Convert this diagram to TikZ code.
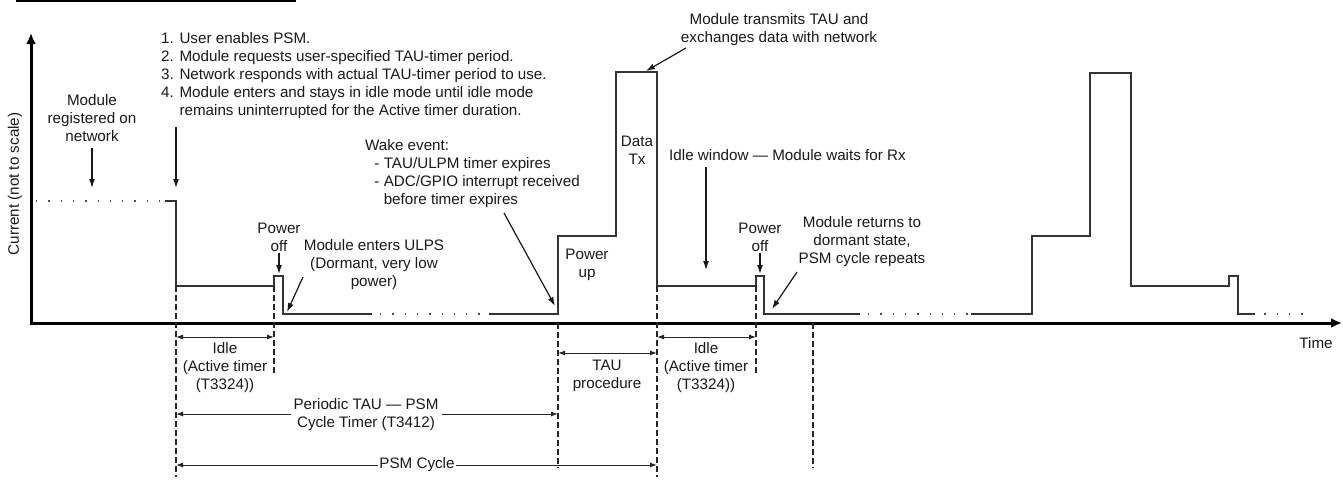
\documentclass[tikz,border=0pt]{standalone}
\usepackage{fontspec}
\setmainfont{Liberation Sans}
\usetikzlibrary{arrows.meta}
\begin{document}
\begin{tikzpicture}[x=1pt,y=-1pt,
  lbl/.style={font=\fontsize{15.2}{18}\selectfont, inner sep=0pt, align=center, text=black!90},
  sigline/.style={line width=1.3pt, black!80, line join=miter},
  dotline/.style={line width=1.5pt, dash pattern=on 1.3pt off 11pt, black!70},
  guideline/.style={line width=1.5pt, dash pattern=on 6pt off 3pt, black!85},
  notearrow/.style={line width=1.2pt, black!90, -{Latex[length=9pt,width=6pt]}},
  dimarrow/.style={line width=1pt, black!85, {Latex[length=7pt,width=5pt]}-{Latex[length=7pt,width=5pt]}},
  axisline/.style={line width=3pt, black, line join=miter, {Latex[length=11pt,width=10pt]}-{Latex[length=11pt,width=10pt]}}
]
\useasboundingbox (0,0) rectangle (1343,479);

% top rule
\draw[line width=1.2pt] (16,1) -- (296,1);

% axes
\coordinate (ytop) at (31,33);
\coordinate (origin) at (31,323);
\coordinate (xend) at (1342,323);
\draw[axisline] (ytop) -- (origin) -- (xend);
\node[lbl, rotate=90] (ylab) at (15,184) {Current (not to scale)};
\node[lbl] (tlab) at (1316,343) {Time};

% signal
\draw[dotline] (36,201) -- (165,201);
\draw[sigline] (165,201) -- (176,201) -- (176,286) -- (274,286) -- (274,276) -- (283,276) -- (283,314) -- (372,314);
\draw[dotline] (380,314) -- (489,314);
\draw[sigline] (489,314) -- (558,314) -- (558,236) -- (616,236) -- (616,72) -- (657,72) -- (657,286) -- (756,286) -- (756,276) -- (764,276) -- (764,314) -- (860,314);
\draw[dotline] (868,314) -- (971,314);
\draw[sigline] (971,314) -- (1032,314) -- (1032,236) -- (1090,236) -- (1090,73) -- (1131,73) -- (1131,286) -- (1229,286) -- (1229,276) -- (1238,276) -- (1238,314) -- (1255,314);
\draw[dotline] (1252,314) -- (1305,314);

% guide lines
\draw[guideline] (176,286) -- (176,477);
\draw[guideline] (274,286) -- (274,375);
\draw[guideline] (558,323) -- (558,468);
\draw[guideline] (657,286) -- (657,477);
\draw[guideline] (756,286) -- (756,375);
\draw[guideline] (813,323) -- (813,468);

% dimension arrows
\coordinate (i1a) at (176,337); \coordinate (i1b) at (274,337);
\draw[dimarrow] (i1a) -- (i1b);
\node[lbl] (idle1) at (225,368) {Idle\\(Active timer\\(T3324))};
\coordinate (i2a) at (657,337); \coordinate (i2b) at (756,337);
\draw[dimarrow] (i2a) -- (i2b);
\node[lbl] (idle2) at (706,368) {Idle\\(Active timer\\(T3324))};
\coordinate (ta) at (558,353); \coordinate (tb) at (657,353);
\draw[dimarrow] (ta) -- (tb);
\node[lbl] (tau) at (607,376) {TAU\\procedure};
\coordinate (pa) at (176,414); \coordinate (pb) at (558,414);
\draw[dimarrow] (pa) -- (pb);
\node[lbl, fill=white, inner xsep=3pt] (per) at (366,415) {Periodic TAU — PSM\\Cycle Timer (T3412)};
\coordinate (ca) at (176,465); \coordinate (cb) at (657,465);
\draw[dimarrow] (ca) -- (cb);
\node[lbl, fill=white, inner xsep=1pt] (cyc) at (417,465) {PSM Cycle};

% annotations
\node[lbl] (reg) at (92,118) {Module\\registered on\\network};
\coordinate (regA) at (92,148); \coordinate (regB) at (92,188);
\draw[notearrow] (regA) -- (regB);

\node[lbl, anchor=west, align=left] (steps) at (161,76) {1. User enables PSM.\\2. Module requests user-specified TAU-timer period.\\3. Network responds with actual TAU-timer period to use.\\4. Module enters and stays in idle mode until idle mode\\\phantom{4. }remains uninterrupted for the Active timer duration.};
\coordinate (stA) at (176,127); \coordinate (stB) at (176,188);
\draw[notearrow] (stA) -- (stB);

\node[lbl] (pof1) at (279,237) {Power\\off};
\coordinate (pf1A) at (279,253); \coordinate (pf1B) at (279,274);
\draw[notearrow] (pf1A) -- (pf1B);

\node[lbl] (ulps) at (374,265) {Module enters ULPS\\(Dormant, very low\\power)};
\coordinate (ulA) at (303,277); \coordinate (ulB) at (287,312);
\draw[notearrow] (ulA) -- (ulB);

\node[lbl, anchor=west, align=left] (wake) at (365,174) {Wake event:\\\phantom{- }- TAU/ULPM timer expires\\\phantom{- }- ADC/GPIO interrupt received\\\phantom{- - }before timer expires};
\coordinate (wkA) at (504,213); \coordinate (wkB) at (555,306);
\draw[notearrow] (wkA) -- (wkB);

\node[lbl] (pup) at (587,265) {Power\\up};
\node[lbl] (dtx) at (637,150) {Data\\Tx};

\node[lbl] (tx) at (779,30) {Module transmits TAU and\\exchanges data with network};
\coordinate (txA) at (686,48); \coordinate (txB) at (646,71);
\draw[notearrow] (txA) -- (txB);

\node[lbl, anchor=west] (iw) at (669,155) {Idle window — Module waits for Rx};
\coordinate (iwA) at (706,167); \coordinate (iwB) at (706,270);
\draw[notearrow] (iwA) -- (iwB);

\node[lbl] (pof2) at (760,237) {Power\\off};
\coordinate (pf2A) at (760,253); \coordinate (pf2B) at (760,274);
\draw[notearrow] (pf2A) -- (pf2B);

\node[lbl] (ret) at (862,242) {Module returns to\\dormant state,\\PSM cycle repeats};
\coordinate (rtA) at (797,272); \coordinate (rtB) at (772,309);
\draw[notearrow] (rtA) -- (rtB);
\end{tikzpicture}
\end{document}
